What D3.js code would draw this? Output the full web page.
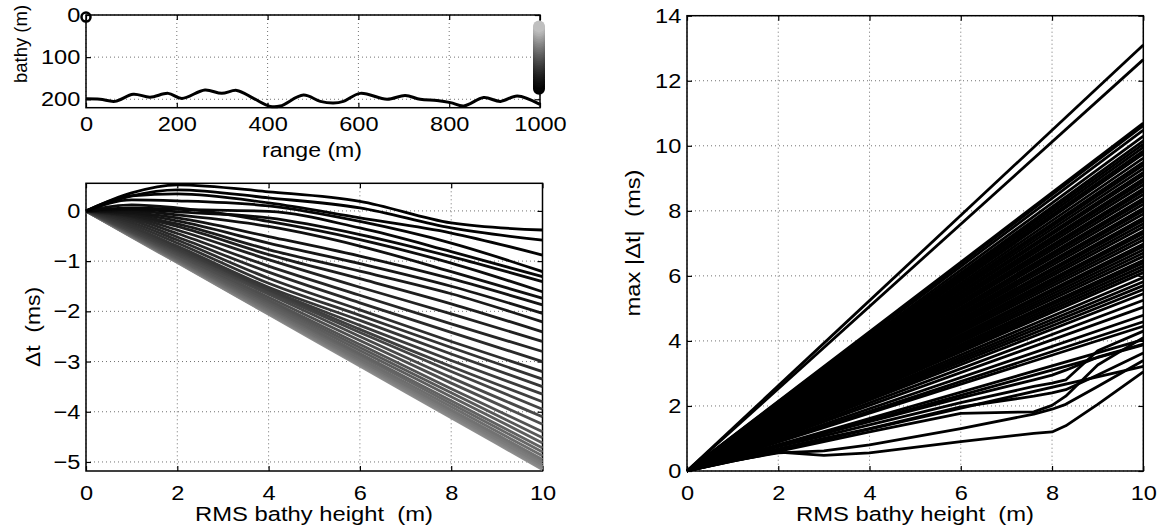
<!DOCTYPE html>
<html>
<head>
<meta charset="utf-8">
<script src="https://cdn.jsdelivr.net/npm/d3@7"></script>
<style>
body { margin: 0; background: #fff; }
text { font-family: "Liberation Sans", Arial, Helvetica, sans-serif; fill: #000; }
.grid { stroke: #000; stroke-width: 1; stroke-dasharray: 1,3; opacity: 0.55; }
</style>
</head>
<body>
<script>
// bathymetry profile (top panel)
var bathyRange = [0, 31, 64, 104, 141, 181, 211, 262, 299, 332, 369, 406, 428, 479, 516, 545, 567, 604, 663, 703, 736, 773, 803, 832, 876, 913, 950, 1000];
var bathyDepth = [199, 200, 205, 188, 195, 186, 198, 178, 186, 179, 198, 217, 216, 190, 205, 209, 205, 186, 200, 191, 200, 203, 208, 216, 196, 205, 192, 212];
var sourceDepth = 5;
// receivers, deepest first (same order as dtSeries)
var receiverDepths = [175, 170, 166, 161, 157, 153, 148, 144, 140, 135, 131, 127, 122, 118, 114, 109, 105, 101, 96, 92, 88, 83, 79, 75, 70, 66, 62, 57, 53, 49, 44, 40, 36, 31, 27];

// delta t vs RMS bathy height (bottom left)
var dtRms = [0, 1, 2, 4, 6, 8, 10];
var dtSeries = [
  [0, 0.36, 0.52, 0.38, 0.19, -0.24, -0.38],
  [0, 0.30, 0.42, 0.26, 0.06, -0.34, -0.58],
  [0, 0.30, 0.34, 0.16, -0.14, -0.44, -0.88],
  [0, 0.22, 0.20, 0.10, -0.21, -0.64, -1.21],
  [0, 0.06, 0.03, -0.01, -0.34, -0.81, -1.31],
  [0, 0.03, -0.02, -0.14, -0.47, -0.91, -1.41],
  [0, 0.12, 0.06, -0.21, -0.57, -1.04, -1.61],
  [0, 0.00, -0.08, -0.31, -0.70, -1.21, -1.74],
  [0, -0.03, -0.14, -0.51, -0.90, -1.35, -1.87],
  [0, -0.05, -0.20, -0.64, -1.05, -1.50, -2.04],
  [0, -0.08, -0.26, -0.77, -1.20, -1.65, -2.21],
  [0, -0.10, -0.31, -0.87, -1.35, -1.85, -2.41],
  [0, -0.12, -0.38, -0.97, -1.52, -2.05, -2.60],
  [0, -0.15, -0.45, -1.10, -1.68, -2.25, -2.80],
  [0, -0.19, -0.52, -1.22, -1.83, -2.42, -3.00],
  [0, -0.23, -0.58, -1.34, -1.97, -2.60, -3.20],
  [0, -0.27, -0.64, -1.44, -2.08, -2.72, -3.35],
  [0, -0.31, -0.70, -1.52, -2.18, -2.85, -3.50],
  [0, -0.34, -0.74, -1.56, -2.28, -2.98, -3.65],
  [0, -0.37, -0.77, -1.58, -2.36, -3.10, -3.80],
  [0, -0.40, -0.80, -1.62, -2.42, -3.20, -3.95],
  [0, -0.41, -0.83, -1.66, -2.50, -3.32, -4.10],
  [0, -0.43, -0.86, -1.72, -2.58, -3.43, -4.25],
  [0, -0.44, -0.88, -1.77, -2.66, -3.54, -4.40],
  [0, -0.45, -0.91, -1.81, -2.72, -3.62, -4.52],
  [0, -0.46, -0.93, -1.85, -2.78, -3.70, -4.62],
  [0, -0.47, -0.95, -1.89, -2.84, -3.78, -4.72],
  [0, -0.48, -0.96, -1.92, -2.88, -3.84, -4.80],
  [0, -0.49, -0.98, -1.95, -2.93, -3.90, -4.88],
  [0, -0.50, -0.99, -1.98, -2.97, -3.96, -4.95],
  [0, -0.50, -1.00, -2.00, -3.00, -4.00, -5.00],
  [0, -0.51, -1.01, -2.02, -3.03, -4.04, -5.05],
  [0, -0.51, -1.02, -2.04, -3.05, -4.07, -5.09],
  [0, -0.51, -1.02, -2.05, -3.07, -4.10, -5.12],
  [0, -0.52, -1.03, -2.06, -3.09, -4.12, -5.15]
];

// max |delta t| (right panel): straight runs from the origin, value at 10 m
var maxDtRms = [0, 10];
var maxDtEnd = [13.1, 12.65, 10.7, 10.62, 10.48, 10.3, 10.15, 10.05, 9.95, 9.84, 9.75, 9.62, 9.5, 9.41, 9.3, 9.18, 9.1, 8.98, 8.9, 8.8, 8.68, 8.6, 8.5, 8.38, 8.3, 8.2, 8.08, 8.0, 7.9, 7.78, 7.7, 7.6, 7.5, 7.38, 7.3, 7.2, 7.1, 6.98, 6.9, 6.8, 6.7, 6.6, 6.48, 6.4, 6.3, 6.2, 6.1, 5.95, 5.82, 5.7, 5.58, 5.45, 5.25, 5.04, 4.79, 4.59, 4.45, 4.04, 3.88, 3.22];
// the bent ones near the bottom of the fan
var kinkRms = [0, 1, 2, 3, 4, 6, 7.6, 8, 8.3, 9, 10];
var kinkSeries = [
  [0, 0.30, 0.58, 0.48, 0.56, 0.90, 1.16, 1.20, 1.39, 2.05, 3.05],
  [0, 0.30, 0.60, 0.90, 1.20, 1.77, 1.82, 2.02, 2.30, 3.26, 4.10],
  [0, 0.35, 0.68, 1.00, 1.30, 1.97, 2.30, 2.40, 2.50, 2.95, 3.63],
  [0, 0.38, 0.75, 1.08, 1.42, 2.10, 2.60, 2.70, 2.80, 3.70, 4.30],
  [0, 0.32, 0.56, 0.62, 0.80, 1.30, 1.75, 1.90, 2.05, 2.60, 3.40],
  [0, 0.40, 0.80, 1.15, 1.52, 2.25, 2.80, 2.95, 3.10, 3.50, 3.90]
];

var width = 1158,
    height = 532;
var fontSize = 20.5,
    stretch = 1.15;

var svg = d3.select("body")
            .append("svg")
            .attr("width", width)
            .attr("height", height);

svg.append("rect").attr("width", width).attr("height", height).attr("fill", "#fff");

// grid, box, ticks on all four sides, labels on bottom/left
function drawFrame(x, y, xTicks, yTicks, xFmt, yFmt, xPad) {
    var xl = Math.min(x.range()[0], x.range()[1]), xr = Math.max(x.range()[0], x.range()[1]);
    var yt = Math.min(y.range()[0], y.range()[1]), yb = Math.max(y.range()[0], y.range()[1]);
    var g = svg.append("g");

    g.append("g").selectAll("line")
     .data(xTicks)
     .enter()
     .append("line")
        .attr("class", "grid")
        .attr("x1", d => x(d)).attr("x2", d => x(d))
        .attr("y1", yt).attr("y2", yb);
    g.append("g").selectAll("line")
     .data(yTicks)
     .enter()
     .append("line")
        .attr("class", "grid")
        .attr("x1", xl).attr("x2", xr)
        .attr("y1", d => y(d)).attr("y2", d => y(d));

    g.append("g")
        .attr("transform", "translate(0," + yb + ")")
        .call(d3.axisBottom(x).tickValues(xTicks).tickSizeInner(-5).tickSizeOuter(0).tickPadding(xPad).tickFormat(xFmt));
    g.append("g")
        .attr("transform", "translate(" + xl + ",0)")
        .call(d3.axisLeft(y).tickValues(yTicks).tickSizeInner(-5).tickSizeOuter(0).tickPadding(5).tickFormat(yFmt));
    g.append("g")
        .attr("transform", "translate(0," + yt + ")")
        .call(d3.axisTop(x).tickValues(xTicks).tickSizeInner(-5).tickSizeOuter(0).tickFormat(""));
    g.append("g")
        .attr("transform", "translate(" + xr + ",0)")
        .call(d3.axisRight(y).tickValues(yTicks).tickSizeInner(-5).tickSizeOuter(0).tickFormat(""));

    g.selectAll(".domain").remove();
    g.selectAll(".tick line").attr("stroke-width", 1.2);
    g.selectAll(".tick text")
     .style("font-size", fontSize + "px")
     .attr("transform", "scale(" + stretch + ",1)");

    g.append("rect")
        .attr("x", xl).attr("y", yt)
        .attr("width", xr - xl).attr("height", yb - yt)
        .attr("fill", "none")
        .attr("stroke", "#000")
        .attr("stroke-width", 1.5);
    return g;
}

// axis titles; len = length it has in the figure (null = natural)
function label(txt, x, y, len, rot, size) {
    var t = svg.append("text")
       .attr("transform", "translate(" + x + "," + y + ")" + (rot ? " rotate(-90)" : ""))
       .attr("text-anchor", "middle")
       .style("font-size", (size || fontSize) + "px")
       .style("white-space", "pre")
       .text(txt);
    if (len) t.attr("textLength", len).attr("lengthAdjust", "spacingAndGlyphs");
}

var minus = d => d3.format("d")(d).replace("-", "\u2212");

// ---- top panel: bathymetry ----
var xBathy = d3.scaleLinear().domain([0, 1000]).range([86, 540]);
var yBathy = d3.scaleLinear().domain([0, 220]).range([15, 107.7]);

drawFrame(xBathy, yBathy, [0, 200, 400, 600, 800, 1000], [0, 100, 200], d3.format("d"), d3.format("d"), 9);

var bathyLine = d3.line()
    .x(d => xBathy(d[0]))
    .y(d => yBathy(d[1]))
    .curve(d3.curveCatmullRom);

svg.append("path")
   .datum(d3.zip(bathyRange, bathyDepth))
   .attr("d", bathyLine)
   .attr("fill", "none")
   .attr("stroke", "#000")
   .attr("stroke-width", 3);

// gray level per receiver: deep = black, shallow = gray
var nRec = receiverDepths.length;
var recColor = (i, top) => {
    var t = i / (nRec - 1);
    var v = Math.round(255 * top * Math.pow(t, 1.4));
    return d3.rgb(v, v, v).toString();
};

svg.append("g").selectAll("circle")
   .data(receiverDepths)
   .enter()
   .append("circle")
      .attr("cx", xBathy(1000) - 1)
      .attr("cy", d => yBathy(d))
      .attr("r", 6)
      .attr("fill", (d, i) => recColor(i, 0.75));

svg.append("circle")
   .attr("cx", xBathy(0))
   .attr("cy", yBathy(sourceDepth))
   .attr("r", 4.5)
   .attr("fill", "none")
   .attr("stroke", "#000")
   .attr("stroke-width", 2.5);

label("range (m)", 312, 157, 100, false);
label("bathy (m)", 27, 44, null, true, 18.5);

// ---- bottom left: delta t ----
var xDt = d3.scaleLinear().domain([0, 10]).range([86, 542.5]);
var yDt = d3.scaleLinear().domain([-5.18, 0.55]).range([471, 183.3]);

drawFrame(xDt, yDt, [0, 2, 4, 6, 8, 10], [-5, -4, -3, -2, -1, 0], d3.format("d"), minus, 14);

var dtLine = d3.line()
    .x((d, i) => xDt(dtRms[i]))
    .y(d => yDt(d))
    .curve(d3.curveMonotoneX);

// shallow (gray) first so the black ones sit on top
var dtOrder = d3.range(dtSeries.length).reverse();
svg.append("g").selectAll("path")
   .data(dtOrder)
   .enter()
   .append("path")
      .attr("d", i => dtLine(dtSeries[i]))
      .attr("fill", "none")
      .attr("stroke", i => recColor(i, 0.56))
      .attr("stroke-width", 2.8)
      .attr("stroke-linejoin", "round");

label("RMS bathy height  (m)", 314, 521, 238, false);
label("\u0394t  (ms)", 40, 327, 80, true);

// ---- right panel: max |delta t| ----
var xMax = d3.scaleLinear().domain([0, 10]).range([687, 1143.3]);
var yMax = d3.scaleLinear().domain([0, 14]).range([471, 15.7]);

drawFrame(xMax, yMax, [0, 2, 4, 6, 8, 10], [0, 2, 4, 6, 8, 10, 12, 14], d3.format("d"), d3.format("d"), 14);

var maxG = svg.append("g");
maxG.selectAll("path.straight")
    .data(maxDtEnd)
    .enter()
    .append("path")
       .attr("class", "straight")
       .attr("d", v => d3.line()(maxDtRms.map((r, i) => [xMax(r), yMax(i === 0 ? 0 : v)])))
       .attr("fill", "none")
       .attr("stroke", "#000")
       .attr("stroke-width", 2.8);

var kinkLine = d3.line()
    .x((d, i) => xMax(kinkRms[i]))
    .y(d => yMax(d));

maxG.selectAll("path.kink")
    .data(kinkSeries)
    .enter()
    .append("path")
       .attr("class", "kink")
       .attr("d", kinkLine)
       .attr("fill", "none")
       .attr("stroke", "#000")
       .attr("stroke-width", 2.8)
       .attr("stroke-linejoin", "round");

label("RMS bathy height  (m)", 915, 521, 238, false);
label("max |\u0394t|  (ms)", 640, 243, 147, true);
</script>
</body>
</html>
